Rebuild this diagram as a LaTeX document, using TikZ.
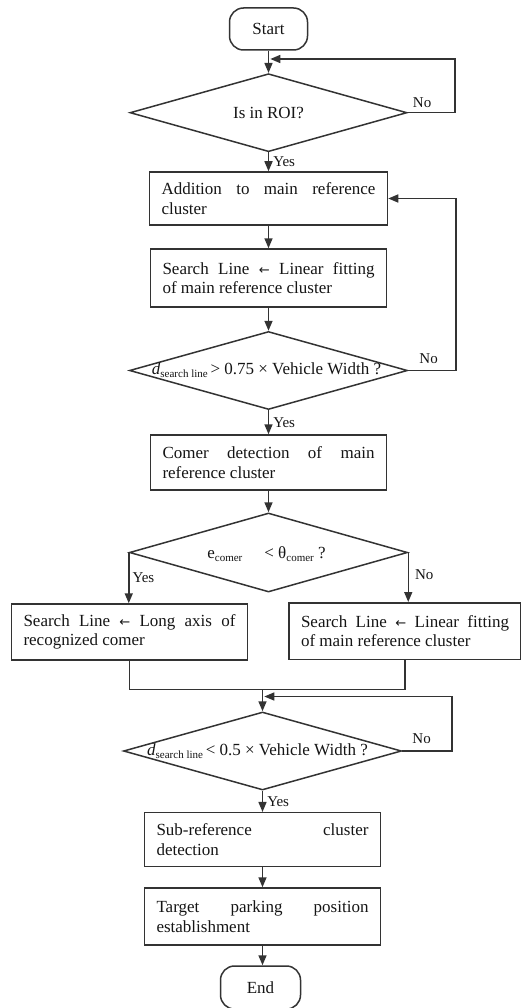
\documentclass[tikz,border=0pt]{standalone}
\usepackage{fontspec}
\setmainfont{Liberation Serif}
\newfontfamily\arrfont{DejaVu Sans}
\usetikzlibrary{shapes.geometric,arrows.meta,calc}
\definecolor{ln}{HTML}{333333}
\definecolor{txt}{HTML}{151515}
\newcommand{\subtx}[1]{\raisebox{-3pt}{\fontsize{11}{11}\selectfont #1}}
\newcommand{\larr}{{\arrfont\fontsize{13}{13}\selectfont ←}}
\begin{document}
\begin{tikzpicture}[x=1pt,y=-1pt,
  every node/.style={font=\fontsize{17}{19.5}\selectfont, text=txt},
  line/.style={draw=ln, line width=1.5pt},
  arr/.style={line, -{Triangle[length=10pt,width=8pt]}},
  term/.style={draw=ln, line width=1.5pt, rounded corners=14pt, minimum width=78pt, minimum height=42pt, inner sep=0pt},
  proc/.style={draw=ln, line width=1.5pt, inner xsep=12pt, inner ysep=0pt, align=justify},
  dec/.style={draw=ln, line width=1.5pt, diamond, inner sep=0pt},
  lab/.style={font=\fontsize{15}{17}\selectfont, inner sep=0pt},
]
\useasboundingbox (0,0) rectangle (521,1008);

% nodes
\node[term] (s) at (268.5,29) {Start};
\node[dec, minimum width=277pt, minimum height=78pt] (d1) at (268.5,112.7) {};
\node (d1t) at (d1.center) {Is in ROI?};
\node[proc, text width=214pt, minimum height=53pt] (b1) at (268.5,198.5) {Addition to main reference\linebreak cluster};
\node[proc, text width=212pt, minimum height=58pt] (b2) at (268.5,278) {Search Line \larr{} Linear fitting\linebreak of main reference cluster};
\node[dec, minimum width=278pt, minimum height=78pt] (d2) at (268.5,370.5) {};
\node (d2t) at ($(d2.center)+(-2,0)$) {{\itshape d}\subtx{search line}\,> 0.75 × Vehicle Width ?};
\node[proc, text width=212pt, minimum height=55pt] (b3) at (268.5,462.5) {Comer detection of main\linebreak reference cluster};
\node[dec, minimum width=278pt, minimum height=79pt] (d3) at (268.5,552.5) {};
\node (d3t) at ($(d3.center)+(-2,1.5)$) {e\subtx{comer}\hspace{22pt}< θ\subtx{comer} ?};
\node[proc, text width=212pt, minimum height=56pt] (b4) at (129.5,632) {Search Line \larr{} Long axis of\linebreak recognized comer};
\node[proc, text width=208pt, minimum height=56.5pt] (b5) at (405,631) {Search Line \larr{} Linear fitting\linebreak of main reference cluster};
\node[dec, minimum width=278pt, minimum height=78pt] (d4) at (262.5,751) {};
\node (d4t) at ($(d4.center)+(-5,0)$) {{\itshape d}\subtx{search line}\,< 0.5 × Vehicle Width ?};
\node[proc, text width=212pt, minimum height=54pt] (b6) at (262.5,839.7) {Sub-reference cluster\linebreak detection};
\node[proc, text width=212pt, minimum height=57pt] (b7) at (262.5,916.5) {Target parking position\linebreak establishment};
\node[term, minimum width=80pt, minimum height=43pt] (e) at (260.5,987.5) {End};

% helper coordinates
\coordinate (j1) at (268.5,59);
\coordinate (r1) at (455,59);
\coordinate (r2) at (456,198.5);
\coordinate (m) at (262.5,689.3);
\coordinate (j3) at (262.5,696.5);
\coordinate (r3) at (452,696.5);

% connectors
\draw[arr] (s.south) -- (d1.north);
\draw[arr, shorten >=1.8pt] (d1.east) -| (r1) -- (j1);
\node[lab, anchor=south west, xshift=5pt, yshift=5pt] at (d1.east) {No};
\draw[arr] (d1.south) -- node[lab, right=4pt] {Yes} (b1.north);
\draw[arr] (b1.south) -- (b2.north);
\draw[arr] (b2.south) -- (d2.north);
\draw[arr] (d2.east) -| (r2) -- (b1.east);
\node[lab, anchor=south west, xshift=11pt, yshift=7pt] at (d2.east) {No};
\draw[arr] (d2.south) -- node[lab, right=4pt] {Yes} (b3.north);
\draw[arr] (b3.south) -- (d3.north);
\draw[arr] (d3.west) -- node[lab, right=3pt, pos=0.5] {Yes} (d3.west |- b4.north);
\draw[arr] (d3.east) -- node[lab, right=6pt, pos=0.45] {No} (d3.east |- b5.north);
\draw[line] (b4.south) -- (b4.south |- m) -- (b5.south |- m) -- (b5.south);
\draw[arr] (m) -- (d4.north);
\draw[arr, shorten >=1.8pt] (d4.east) -| (r3) -- (j3);
\node[lab, anchor=south west, xshift=10pt, yshift=7.5pt] at (d4.east) {No};
\draw[arr] (d4.south) -- node[lab, right=4pt] {Yes} (b6.north);
\draw[arr] (b6.south) -- (b7.north);
\draw[arr] (b7.south) -- (b7.south |- e.north);
\end{tikzpicture}
\end{document}
